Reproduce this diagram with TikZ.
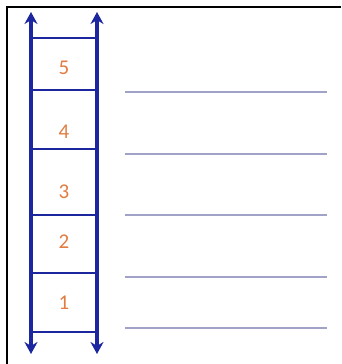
\documentclass[tikz,border=0pt]{standalone}
\usepackage{fontspec}
\setmainfont{Carlito}
\usepackage{tikz}
\usetikzlibrary{positioning,arrows.meta}
\definecolor{railblue}{RGB}{28,38,158}
\definecolor{numorange}{RGB}{226,124,64}
\definecolor{linegray}{RGB}{160,162,200}
\begin{document}
\begin{tikzpicture}[x=1pt,y=-1pt,>={Stealth[length=12pt,width=13pt]},every node/.style={font=\fontsize{21}{24}\selectfont}]
\tikzstyle{rail}=[draw=railblue,line width=3.4pt]
\tikzstyle{rung}=[draw=railblue,line width=2.6pt]
\tikzstyle{num}=[text=numorange,inner sep=0pt]
\tikzstyle{wline}=[draw=linegray,line width=1.8pt]
\useasboundingbox (0,0) rectangle (341,364);
\draw[black,line width=2.4pt] (7,364) -- (7,7) -- (341,7);
% rails
\coordinate (lt) at (31,12); \coordinate (lb) at (31,354);
\coordinate (rt) at (97,12); \coordinate (rb) at (97,354);
\draw[rail,<->] (lb) -- (lt);
\draw[rail,<->] (rb) -- (rt);
% rungs
\foreach \y [count=\i] in {38,90,149,215,273,332}
  \draw[rung] (31,\y) coordinate (rl\i) -- (97,\y) coordinate (rr\i);
% step numbers
\node[num] (n5) at (64,68) {5};
\node[num] (n4) at (64,132) {4};
\node[num] (n3) at (64,192) {3};
\node[num] (n2) at (64,242) {2};
\node[num] (n1) at (64,303) {1};
% writing lines
\foreach \y in {92,154,215,277,328}
  \draw[wline] (125,\y) -- (327,\y);
\end{tikzpicture}
\end{document}
